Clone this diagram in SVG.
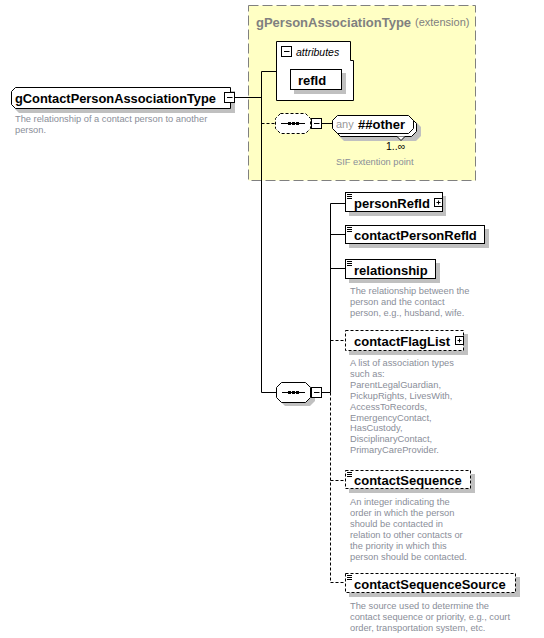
<svg xmlns="http://www.w3.org/2000/svg" width="544" height="638" viewBox="0 0 544 638">
<style>
.ln{stroke:#000;stroke-width:1;fill:none}
.dl{stroke:#000;stroke-width:1;fill:none;stroke-dasharray:3,2}
.box{fill:#fff;stroke:#000;stroke-width:1}
.dbox{fill:#fff;stroke:#000;stroke-width:1;stroke-dasharray:3,2}
.sh{fill:#c0c0c0;stroke:none}
.lbl{font-family:"Liberation Sans",Arial,sans-serif;font-weight:bold;font-size:13px;fill:#000}
.desc{font-family:"Liberation Sans",Arial,sans-serif;font-size:9.3px;fill:#8a8e99}
.ttl{font-family:"Liberation Sans",Arial,sans-serif;font-weight:bold;font-size:13px;fill:#808080}
.small{font-family:"Liberation Sans",Arial,sans-serif;font-size:11px;fill:#808080}
</style>
<defs>
<g id="eicon"><path d="M0 0.5H5M0 2.5H5M0 4.5H5" stroke="#000" stroke-width="1"/></g>
<g id="plus"><rect x="0.5" y="0.5" width="8" height="8" fill="#fff" stroke="#000"/><path d="M2.5 4.5H6.5M4.5 2.5V6.5" stroke="#000"/></g>
<g id="minus"><rect x="0.5" y="0.5" width="10" height="10" fill="#fff" stroke="#000"/><path d="M3 5.5H8.5" stroke="#000"/></g>
</defs>

<g id="extension">
<rect x="248.5" y="5.5" width="227" height="175" fill="#ffffc4" stroke="#808080" stroke-dasharray="10,4"/>
<text x="256" y="27" class="ttl">gPersonAssociationType</text>
<text x="415" y="26" class="small">(extension)</text>
</g>

<g id="connectors">
<path class="ln" d="M235 97.5H261.5M261.5 71.5V392.5M261.5 71.5H276.5M261.5 392.5H276.5"/>
<path class="dl" d="M261.5 123.5H275"/>
<path class="ln" d="M322 123.5H332"/>
<path class="ln" d="M322 392.5H330.5M330.5 203.5V392.5M330.5 203.5H345.5M330.5 234.5H345.5M330.5 268.5H345.5"/>
<path class="dl" d="M330.5 392.5V582.5M330.5 340.5H345.5M330.5 480.5H345.5M330.5 582.5H345.5"/>
</g>

<g id="gContactPersonAssociationType">
<path class="sh" d="M19 91H235V113H19L15 109V95Z"/>
<path class="box" d="M15.5 87.5H230.5V108.5H15.5L11.5 104.5V91.5Z"/>
<text x="15" y="103" class="lbl" textLength="201" lengthAdjust="spacingAndGlyphs">gContactPersonAssociationType</text>
<use href="#minus" x="224" y="92"/>
<text class="desc"><tspan x="15" y="122">The relationship of a contact person to another</tspan><tspan x="15" y="133">person.</tspan></text>
</g>

<g id="attributes">
<path class="box" d="M276.5 41.5H350.5V60.5H353.5V100.5H276.5Z"/>
<use href="#minus" x="281" y="46"/>
<text x="296" y="56" font-family="Liberation Sans,Arial,sans-serif" font-style="italic" font-size="10.5px">attributes</text>
</g>

<g id="refId">
<rect class="sh" x="294" y="73" width="52" height="21"/>
<rect class="box" x="290.5" y="69.5" width="51" height="20"/>
<text x="298" y="85" class="lbl">refId</text>
</g>

<g id="optSequence">
<path class="dbox" d="M280.5 113.5H305.5L310.5 118.5V128.5L305.5 133.5H280.5L275.5 128.5V118.5Z"/>
<path d="M281 123.5H305" stroke="#000"/>
<rect x="288" y="122" width="3" height="3"/><rect x="292" y="122" width="3" height="3"/><rect x="296" y="122" width="3" height="3"/>
<use href="#minus" x="311" y="118"/>
</g>

<g id="anyOther">
<path class="sh" d="M344 122H416L421 127V136L416 141H344L339 136V127Z"/>
<path class="box" d="M340.5 118.5H411.5L416.5 123.5V131.5L411.5 136.5H340.5L335.5 131.5V123.5Z"/>
<path class="box" d="M337.5 115.5H408.5L413.5 120.5V128.5L408.5 133.5H337.5L332.5 128.5V120.5Z"/>
<path d="M397 136.5L401 140.5L405 136.5" fill="#fff" stroke="#000"/>
<text x="336" y="128" font-family="Liberation Sans,Arial,sans-serif" font-size="11px" fill="#999">any</text>
<text x="358" y="129" class="lbl">##other</text>
<text x="386" y="150" font-family="Liberation Sans,Arial,sans-serif" font-size="10.5px" fill="#000">1..∞</text>
<text x="336" y="165" class="desc">SIF extention point</text>
</g>

<g id="sequence">
<path class="sh" d="M285 386H310L315 391V401L310 406H285L280 401V391Z"/>
<path class="box" d="M281.5 382.5H305.5L310.5 387.5V397.5L305.5 402.5H281.5L276.5 397.5V387.5Z"/>
<path d="M282 392.5H305" stroke="#000"/>
<rect x="288" y="391" width="3" height="3"/><rect x="292" y="391" width="3" height="3"/><rect x="296" y="391" width="3" height="3"/>
<use href="#minus" x="311" y="387"/>
</g>

<g id="personRefId">
<rect class="sh" x="349" y="196" width="97" height="20"/>
<rect class="box" x="345.5" y="192.5" width="97" height="19"/>
<use href="#eicon" x="347" y="194"/>
<text x="354" y="208" class="lbl">personRefId</text>
<use href="#plus" x="434" y="198"/>
</g>

<g id="contactPersonRefId">
<rect class="sh" x="349" y="229" width="140" height="19"/>
<rect class="box" x="345.5" y="225.5" width="139" height="18"/>
<use href="#eicon" x="347" y="227"/>
<text x="354" y="240" class="lbl">contactPersonRefId</text>
</g>

<g id="relationship">
<rect class="sh" x="349" y="263" width="91" height="20"/>
<rect class="box" x="345.5" y="259.5" width="90" height="19"/>
<use href="#eicon" x="347" y="261"/>
<text x="354" y="275" class="lbl">relationship</text>
<text class="desc"><tspan x="350" y="294">The relationship between the</tspan><tspan x="350" y="305">person and the contact</tspan><tspan x="350" y="316">person, e.g., husband, wife.</tspan></text>
</g>

<g id="contactFlagList">
<rect class="sh" x="349" y="334" width="119" height="21"/>
<rect class="dbox" x="345.5" y="330.5" width="118" height="20"/>
<text x="354" y="346" class="lbl">contactFlagList</text>
<use href="#plus" x="455" y="336"/>
<text class="desc"><tspan x="350" y="366">A list of association types</tspan><tspan x="350" y="377">such as:</tspan><tspan x="350" y="388">ParentLegalGuardian,</tspan><tspan x="350" y="399">PickupRights, LivesWith,</tspan><tspan x="350" y="410">AccessToRecords,</tspan><tspan x="350" y="421">EmergencyContact,</tspan><tspan x="350" y="431">HasCustody,</tspan><tspan x="350" y="442">DisciplinaryContact,</tspan><tspan x="350" y="453">PrimaryCareProvider.</tspan></text>
</g>

<g id="contactSequence">
<rect class="sh" x="349" y="474" width="126" height="19"/>
<rect class="dbox" x="345.5" y="470.5" width="125" height="18"/>
<use href="#eicon" x="347" y="472"/>
<text x="354" y="485" class="lbl">contactSequence</text>
<text class="desc"><tspan x="350" y="505">An integer indicating the</tspan><tspan x="350" y="516">order in which the person</tspan><tspan x="350" y="527">should be contacted in</tspan><tspan x="350" y="538">relation to other contacts or</tspan><tspan x="350" y="549">the priority in which this</tspan><tspan x="350" y="560">person should be contacted.</tspan></text>
</g>

<g id="contactSequenceSource">
<rect class="sh" x="349" y="577" width="171" height="20"/>
<rect class="dbox" x="345.5" y="573.5" width="170" height="19"/>
<use href="#eicon" x="347" y="575"/>
<text x="354" y="589" class="lbl">contactSequenceSource</text>
<text class="desc"><tspan x="350" y="609">The source used to determine the</tspan><tspan x="350" y="620">contact sequence or priority, e.g., court</tspan><tspan x="350" y="631">order, transportation system, etc.</tspan></text>
</g>
</svg>
